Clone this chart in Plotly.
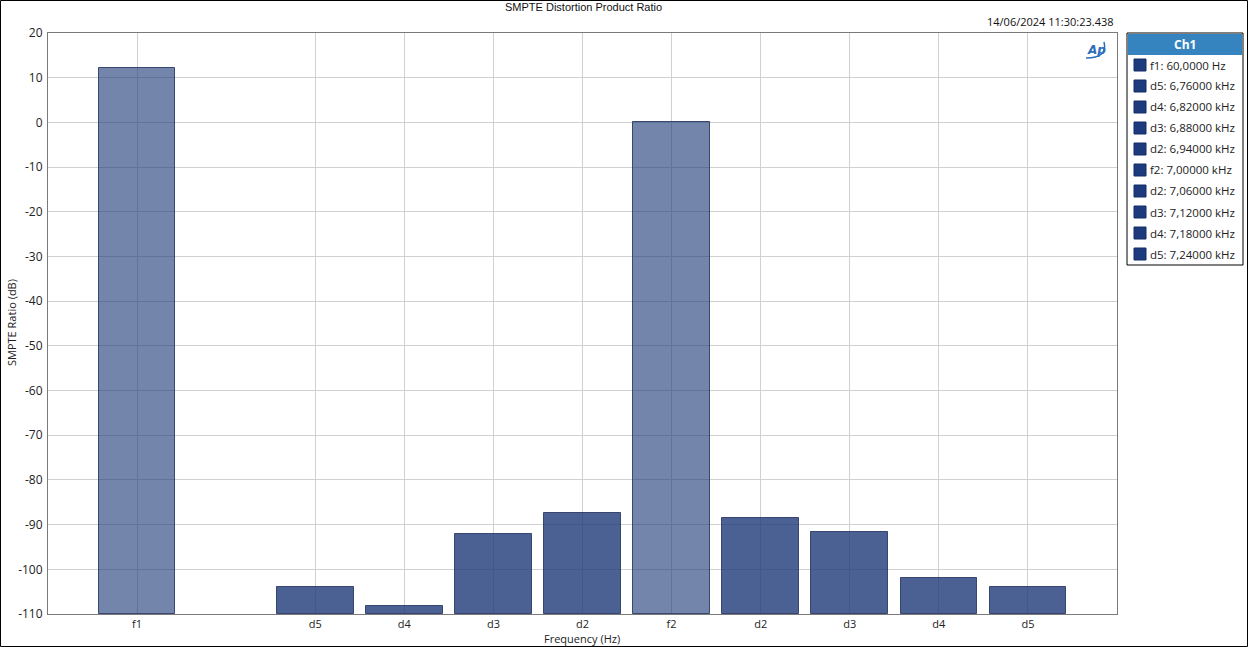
import plotly.graph_objects as go

# ---- data ----
labels = ["f1", "d5", "d4", "d3", "d2", "f2", "d2", "d3", "d4", "d5"]
values_db = [12.2, -103.9, -108.2, -92.1, -87.4, 0.0, -88.5, -91.6, -101.9, -103.9]
is_fundamental = [True, False, False, False, False, True, False, False, False, False]
legend_labels = ["f1: 60,0000 Hz", "d5: 6,76000 kHz", "d4: 6,82000 kHz", "d3: 6,88000 kHz",
                 "d2: 6,94000 kHz", "f2: 7,00000 kHz", "d2: 7,06000 kHz", "d3: 7,12000 kHz",
                 "d4: 7,18000 kHz", "d5: 7,24000 kHz"]
y_ticks = [20, 10, 0, -10, -20, -30, -40, -50, -60, -70, -80, -90, -100, -110]
y_floor = -110
y_top = 20

# slot positions: f1 first, one empty slot, then the rest consecutively
slots = [0] + [i + 1 for i in range(1, len(labels))]

W, H = 1248, 647
L, R, T, B = 48, 1117, 33, 614


def px_x(p):
    return (p - L) / (R - L)


def px_y(p):
    return (B - p) / (B - T)


FONT = "Open Sans"
TXT = "#222222"
light = "rgba(30,58,120,0.62)"
dark = "rgba(30,58,120,0.80)"
colors = [light if f else dark for f in is_fundamental]

fig = go.Figure()
fig.add_trace(go.Bar(
    x=slots,
    y=[v - y_floor for v in values_db],
    base=y_floor,
    width=0.86,
    marker=dict(color=colors, line=dict(color="rgba(35,50,95,0.85)", width=1)),
    showlegend=False,
    hovertext=labels,
))

fig.update_layout(
    width=W, height=H,
    margin=dict(l=L, r=W - R, t=T, b=H - B, autoexpand=False),
    paper_bgcolor="white", plot_bgcolor="white",
    font=dict(family=FONT, size=11, color=TXT),
    bargap=0,
    xaxis=dict(
        range=[-1, 11], tickvals=slots, ticktext=labels,
        showgrid=True, gridcolor="#d0d0d0", gridwidth=1,
        showline=True, linecolor="#7a7a7a", linewidth=1, mirror=True,
        ticks="", zeroline=False, automargin=False, ticklabelstandoff=0,
        tickfont=dict(family=FONT, size=11, color=TXT),
        fixedrange=True,
    ),
    yaxis=dict(
        range=[y_floor, y_top], tickvals=y_ticks, ticktext=[str(v) for v in y_ticks],
        showgrid=True, gridcolor="#d0d0d0", gridwidth=1,
        showline=True, linecolor="#7a7a7a", linewidth=1, mirror=True,
        ticks="", zeroline=False, automargin=False, ticklabelstandoff=2,
        tickfont=dict(family=FONT, size=12, color=TXT),
        fixedrange=True,
    ),
)

annotations = []
shapes = []

# axis titles
annotations.append(dict(text="Frequency (Hz)", xref="paper", yref="paper",
                        x=px_x(582), y=px_y(639), xanchor="center", yanchor="middle",
                        showarrow=False, font=dict(family=FONT, size=11, color=TXT)))
annotations.append(dict(text="SMPTE Ratio (dB)", xref="paper", yref="paper",
                        x=px_x(11), y=px_y(323), xanchor="center", yanchor="middle", textangle=-90,
                        showarrow=False, font=dict(family=FONT, size=11, color=TXT)))

# title & timestamp
annotations.append(dict(text="SMPTE Distortion Product Ratio", xref="paper", yref="paper",
                        x=px_x(583), y=px_y(7), xanchor="center", yanchor="middle",
                        showarrow=False, font=dict(family="Liberation Sans", size=11, color="#111111")))
annotations.append(dict(text="14/06/2024 11:30:23.438", xref="paper", yref="paper",
                        x=px_x(1116), y=px_y(22), xanchor="right", yanchor="middle",
                        showarrow=False, font=dict(family=FONT, size=11, color="#111111")))
# AP logo
annotations.append(dict(text="<b><i>Ap</i></b>", xref="paper", yref="paper",
                        x=px_x(1096), y=px_y(50), xanchor="center", yanchor="middle",
                        showarrow=False, font=dict(family="DejaVu Sans", size=12, color="#2b6db8")))
shapes.append(dict(type="path", xref="paper", yref="paper",
                   path="M {} {} Q {} {} {} {}".format(px_x(1086), px_y(58), px_x(1108), px_y(58),
                                                       px_x(1104), px_y(42)),
                   line=dict(color="#2b6db8", width=1.5)))

# legend box
lx0, lx1, ly0, ly1 = 1127, 1243, 33, 265
shapes.append(dict(type="rect", xref="paper", yref="paper",
                   x0=px_x(lx0), x1=px_x(lx1), y0=px_y(ly0), y1=px_y(ly1),
                   line=dict(color="#000000", width=1), fillcolor="white"))
shapes.append(dict(type="rect", xref="paper", yref="paper",
                   x0=px_x(lx0 + 1), x1=px_x(lx1 - 1), y0=px_y(ly0 + 1), y1=px_y(55),
                   line=dict(width=0), fillcolor="#3584c0"))
annotations.append(dict(text="<b>Ch1</b>", xref="paper", yref="paper",
                        x=px_x((lx0 + lx1) / 2), y=px_y(44.5), xanchor="center", yanchor="middle",
                        showarrow=False, font=dict(family=FONT, size=12, color="white")))
for i, lab in enumerate(legend_labels):
    cy = 65 + 21 * i
    shapes.append(dict(type="rect", xref="paper", yref="paper",
                       x0=px_x(1134), x1=px_x(1146), y0=px_y(cy - 6), y1=px_y(cy + 6),
                       line=dict(color="#142d66", width=1), fillcolor="#1d3a7c"))
    annotations.append(dict(text=lab, xref="paper", yref="paper",
                            x=px_x(1148), y=px_y(cy), xanchor="left", yanchor="middle",
                            showarrow=False, font=dict(family=FONT, size=11.5, color=TXT)))

# outer border
shapes.append(dict(type="rect", xref="paper", yref="paper",
                   x0=px_x(0.5), x1=px_x(W - 0.5), y0=px_y(0.5), y1=px_y(H - 0.5),
                   line=dict(color="#000000", width=1), fillcolor="rgba(0,0,0,0)", layer="above"))

fig.update_layout(annotations=annotations, shapes=shapes)
fig.write_html("out.html", config={"displayModeBar": False})

# remove default page margin so the figure sits at the window origin
with open("out.html", "r", encoding="utf-8") as fh:
    html = fh.read()
html = html.replace("<head>", "<head><style>html,body{margin:0;padding:0;overflow:hidden;}</style>", 1)
with open("out.html", "w", encoding="utf-8") as fh:
    fh.write(html)
